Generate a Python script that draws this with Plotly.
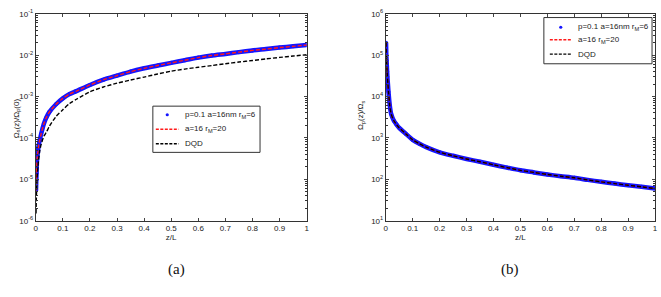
import plotly.graph_objects as go

# ---------------- data ----------------
z = [0.001, 0.002, 0.003, 0.004, 0.005, 0.006, 0.008, 0.01, 0.015, 0.02,
     0.03, 0.04, 0.05, 0.075, 0.1, 0.125, 0.15, 0.2, 0.25, 0.3, 0.35, 0.4,
     0.45, 0.5, 0.55, 0.6, 0.65, 0.7, 0.75, 0.8, 0.85, 0.9, 0.95, 1.0]

# panel (a): Omega_s(z)/Omega_p(0)
a_p01 = [5.4e-6, 9.5e-6, 1.4e-5, 2.2e-5, 3.1e-5, 3.6e-5, 4.5e-5, 6e-5, 9e-5, 1.25e-4,
         2.2e-4, 3.2e-4, 4.2e-4, 6.5e-4, 9e-4, 1.15e-3, 1.35e-3, 1.9e-3, 2.55e-3, 3.2e-3,
         4.0e-3, 4.8e-3, 5.6e-3, 6.5e-3, 7.5e-3, 8.7e-3, 9.8e-3, 1.07e-2, 1.18e-2, 1.3e-2,
         1.4e-2, 1.52e-2, 1.63e-2, 1.75e-2]
a_a16 = a_p01
a_dqd = [1.5e-6, 3e-6, 5e-6, 8e-6, 1.1e-5, 1.4e-5, 2e-5, 2.8e-5, 5e-5, 7e-5,
         1.1e-4, 1.4e-4, 1.9e-4, 3.3e-4, 4.8e-4, 6.8e-4, 8.6e-4, 1.3e-3, 1.7e-3, 2.1e-3,
         2.5e-3, 2.95e-3, 3.5e-3, 4.1e-3, 4.6e-3, 5.1e-3, 5.6e-3, 6.2e-3, 6.8e-3, 7.4e-3,
         8.1e-3, 8.8e-3, 9.5e-3, 1.02e-2]

# panel (b): Omega_p(z)/Omega_s
b_p01 = [2e5, 1e5, 7.4e4, 5.4e4, 4e4, 3e4, 2e4, 1.3e4, 6e3, 3.8e3,
         2.6e3, 2.1e3, 1.75e3, 1.25e3, 900, 720, 600, 450, 370, 310,
         265, 225, 192, 165, 147, 131, 119, 109, 97, 87,
         79, 72, 66, 60]
b_a16 = b_p01
b_dqd = b_p01

names = ["p=0.1 a=16nm r<sub>M</sub>=6", "a=16 r<sub>M</sub>=20", "DQD"]
xticks = [0, 0.1, 0.2, 0.3, 0.4, 0.5, 0.6, 0.7, 0.8, 0.9, 1]
xticktext = ["0", "0.1", "0.2", "0.3", "0.4", "0.5", "0.6", "0.7", "0.8", "0.9", "1"]
a_exp = [-6, -5, -4, -3, -2, -1]
b_exp = [1, 2, 3, 4, 5, 6]

# ---------------- figure ----------------
W, H = 661, 297
fig = go.Figure()
BLUE = "#1414ff"
RED = "#ff1a1a"

def add_panel(xa, ya, s1, s2, s3):
    fig.add_trace(go.Scatter(x=z, y=s1, mode="lines",
                             line=dict(color=BLUE, width=4.5, shape="spline", smoothing=0.6),
                             xaxis=xa, yaxis=ya, showlegend=False, hoverinfo="skip"))
    fig.add_trace(go.Scatter(x=z, y=s1, mode="markers", name=names[0],
                             marker=dict(color=BLUE, size=4), xaxis=xa, yaxis=ya,
                             showlegend=False))
    fig.add_trace(go.Scatter(x=z, y=s2, mode="lines", name=names[1],
                             line=dict(color=RED, width=1.4, dash="4px,2px",
                                       shape="spline", smoothing=0.6),
                             xaxis=xa, yaxis=ya, showlegend=False))
    fig.add_trace(go.Scatter(x=z, y=s3, mode="lines", name=names[2],
                             line=dict(color="#000000", width=1.4, dash="4px,2px",
                                       shape="spline", smoothing=0.6),
                             xaxis=xa, yaxis=ya, showlegend=False))

add_panel("x", "y", a_p01, a_a16, a_dqd)
add_panel("x2", "y2", b_p01, b_a16, b_dqd)

FONT = "Liberation Sans"
tickfont = dict(family=FONT, size=8, color="#222")

def xaxis(dom, anchor):
    return dict(domain=dom, anchor=anchor, range=[0, 1], tickmode="array", tickvals=xticks,
                ticktext=xticktext, ticks="inside", ticklen=3, mirror="ticks", showline=True,
                linecolor="#333", linewidth=1, showgrid=False, zeroline=False, tickfont=tickfont,
                title=dict(text="z/L", font=tickfont, standoff=2))

def yaxis(dom, anchor, exps):
    minor = [m * 10.0 ** e for e in exps[:-1] for m in range(2, 10)]
    return dict(domain=dom, anchor=anchor, type="log", range=[exps[0], exps[-1]],
                tickmode="array", tickvals=[10.0 ** e for e in exps],
                ticktext=["10<sup>%d</sup>" % e for e in exps],
                ticks="inside", ticklen=3, mirror="ticks", showline=True, linecolor="#333",
                linewidth=1, showgrid=False, zeroline=False, tickfont=tickfont,
                minor=dict(tickmode="array", tickvals=minor, ticks="inside", ticklen=2,
                           tickcolor="#333", showgrid=False))

# ---- hand-drawn legends (box, sample, label) in pixel units ----
shapes, annots = [], []

def px(x):
    return x / W

def py(y):
    return 1 - y / H

def legend_box(x0, y0, x1, y1, rows, sx0, sx1, tx):
    shapes.append(dict(type="rect", xref="paper", yref="paper", x0=px(x0), x1=px(x1),
                       y0=py(y1), y1=py(y0), line=dict(color="#333", width=1),
                       fillcolor="white", layer="above"))
    cx = (sx0 + sx1) / 2
    shapes.append(dict(type="circle", xref="paper", yref="paper", x0=px(cx - 1.6),
                       x1=px(cx + 1.6), y0=py(rows[0] + 1.6), y1=py(rows[0] - 1.6),
                       fillcolor=BLUE, line=dict(color=BLUE, width=0), layer="above"))
    for r, col in ((rows[1], RED), (rows[2], "#000")):
        shapes.append(dict(type="line", xref="paper", yref="paper", x0=px(sx0), x1=px(sx1),
                           y0=py(r), y1=py(r), line=dict(color=col, width=1.4, dash="3px,1.5px"),
                           layer="above"))
    for r, t in zip(rows, names):
        annots.append(dict(text=t, xref="paper", yref="paper", x=px(tx), y=py(r),
                           xanchor="left", yanchor="middle", showarrow=False,
                           font=dict(family=FONT, size=8, color="#222")))

legend_box(152, 104, 260, 152, [113, 128, 143], 155, 178, 182)
legend_box(546, 12, 655, 60, [22, 35, 50], 552, 574, 578)

annots += [
    dict(text="Ω<sub>s</sub>(z)/Ω<sub>p</sub>(0)", xref="paper", yref="paper",
         x=px(7.5), y=py(116), textangle=-90, showarrow=False, font=tickfont),
    dict(text="Ω<sub>p</sub>(z)/Ω<sub>s</sub>", xref="paper", yref="paper",
         x=px(362), y=py(113), textangle=-90, showarrow=False, font=tickfont),
    dict(text="(a)", xref="paper", yref="paper", x=px(165), y=py(285),
         showarrow=False, font=dict(family="Liberation Serif", size=15, color="#111")),
    dict(text="(b)", xref="paper", yref="paper", x=px(523), y=py(285),
         showarrow=False, font=dict(family="Liberation Serif", size=15, color="#111")),
]

ydom = [py(223), py(8)]
fig.update_layout(
    width=W, height=H, margin=dict(l=0, r=0, t=0, b=0),
    paper_bgcolor="white", plot_bgcolor="white",
    font=dict(family=FONT),
    showlegend=False,
    hovermode=False,
    xaxis=xaxis([px(34), px(307)], "y"),
    yaxis=yaxis(ydom, "x", a_exp),
    xaxis2=xaxis([px(386.7), px(658)], "y2"),
    yaxis2=yaxis(ydom, "x2", b_exp),
    shapes=shapes,
    annotations=annots,
)

fig.write_html("out.html", config={"displayModeBar": False},
               post_script="document.body.style.margin='0';document.body.style.overflow='hidden';")
